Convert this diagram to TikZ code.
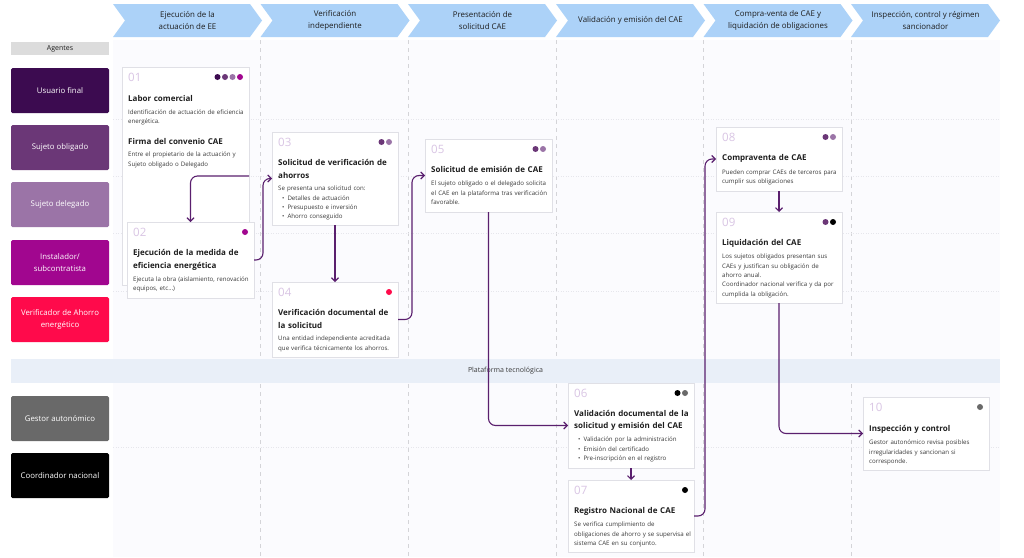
\documentclass[tikz,border=0pt]{standalone}
\usepackage{fontspec}
\setmainfont{Open Sans}
\usetikzlibrary{arrows.meta}
\definecolor{usr}{HTML}{3C0B50}
\definecolor{obl}{HTML}{6B3777}
\definecolor{del}{HTML}{9B74A7}
\definecolor{ins}{HTML}{A1068F}
\definecolor{ver}{HTML}{FF0A4B}
\definecolor{ges}{HTML}{696969}
\definecolor{coo}{HTML}{000000}
\definecolor{phase}{HTML}{ACD2F8}
\definecolor{ink}{HTML}{1E1E1E}
\definecolor{body}{HTML}{3A3A3A}
\definecolor{gridline}{HTML}{D4D4D8}
\definecolor{rowsep}{HTML}{E6E6EC}
\definecolor{cardline}{HTML}{E0E0E6}
\definecolor{numcol}{HTML}{D9C5E4}
\definecolor{arrowcol}{HTML}{5A1F6E}
\definecolor{platbg}{HTML}{E9EFF8}
\definecolor{gridbg}{HTML}{FBFBFE}
\definecolor{agbg}{HTML}{DCDCDC}
\begin{document}
\begin{tikzpicture}[x=1pt, y=-1pt,
  phasebg/.style={fill=phase},
  phaselabel/.style={align=center, inner sep=0pt, text=ink, font=\fontsize{7.9}{12.5}\selectfont},
  colline/.style={draw=gridline, line width=0.6pt, dash pattern=on 4pt off 4pt},
  rowline/.style={draw=rowsep, line width=0.5pt, dotted},
  agent/.style={rounded corners=1.5pt, minimum width=98pt, minimum height=45pt, inner sep=0pt, align=center, text=white, font=\fontsize{7.8}{12}\selectfont},
  card/.style={draw=cardline, fill=white, line width=0.6pt, anchor=north west, inner sep=0pt, outer sep=0pt},
  cardnum/.style={anchor=base west, inner sep=0pt, text=numcol, font=\fontsize{11.5}{12}\selectfont},
  cardtitle/.style={anchor=base west, inner sep=0pt, align=left, text width=140pt, text=ink, font=\fontsize{8}{12.6}\selectfont\bfseries},
  cardtext/.style={anchor=base west, inner sep=0pt, align=left, text width=140pt, text=body, font=\fontsize{6.15}{9.4}\selectfont},
  dot/.style={circle, inner sep=0pt, minimum size=6pt},
  flow/.style={draw=arrowcol, line width=1.1pt, rounded corners=7pt, -{Straight Barb[length=3.5pt, width=7pt]}}]
\useasboundingbox[fill=white] (0,0) rectangle (1024,557);
\fill[gridbg] (113,40) rectangle (1000,557);
\fill[phasebg] (113,4) -- ++(137,0) -- ++(12,16.5) -- ++(-12,16.5) -- ++(-137,0) -- ++(12,-16.5) -- cycle;
\fill[phasebg] (260.5,4) -- ++(137,0) -- ++(12,16.5) -- ++(-12,16.5) -- ++(-137,0) -- ++(12,-16.5) -- cycle;
\fill[phasebg] (408,4) -- ++(137,0) -- ++(12,16.5) -- ++(-12,16.5) -- ++(-137,0) -- ++(12,-16.5) -- cycle;
\fill[phasebg] (556,4) -- ++(137,0) -- ++(12,16.5) -- ++(-12,16.5) -- ++(-137,0) -- ++(12,-16.5) -- cycle;
\fill[phasebg] (703.5,4) -- ++(137,0) -- ++(12,16.5) -- ++(-12,16.5) -- ++(-137,0) -- ++(12,-16.5) -- cycle;
\fill[phasebg] (851,4) -- ++(137,0) -- ++(12,16.5) -- ++(-12,16.5) -- ++(-137,0) -- ++(12,-16.5) -- cycle;
\node[phaselabel] (ph1) at (187.5,20.5) {Ejecución de la\\actuación de EE};
\node[phaselabel] (ph2) at (335,20.5) {Verificación\\independiente};
\node[phaselabel] (ph3) at (482.5,20.5) {Presentación de\\solicitud CAE};
\node[phaselabel] (ph4) at (630.5,20.5) {Validación y emisión del CAE};
\node[phaselabel] (ph5) at (778,20.5) {Compra-venta de CAE y\\liquidación de obligaciones};
\node[phaselabel] (ph6) at (925.5,20.5) {Inspección, control y régimen\\sancionador};
\draw[colline] (260.5,40) -- (260.5,557);
\draw[colline] (408,40) -- (408,557);
\draw[colline] (556,40) -- (556,557);
\draw[colline] (703.5,40) -- (703.5,557);
\draw[colline] (851,40) -- (851,557);
\draw[rowline] (113,119) -- (1000,119);
\draw[rowline] (113,176) -- (1000,176);
\draw[rowline] (113,233.5) -- (1000,233.5);
\draw[rowline] (113,291) -- (1000,291);
\draw[rowline] (113,447) -- (1000,447);
\node[minimum width=98pt, minimum height=13pt, inner sep=0pt, fill=agbg, text=ink, font=\fontsize{7}{8}\selectfont] (agentes) at (60,48.5) {Agentes};
\node[agent, fill=usr] (usr) at (60,90.5) {Usuario final};
\node[agent, fill=obl] (obl) at (60,147.5) {Sujeto obligado};
\node[agent, fill=del] (del) at (60,204.5) {Sujeto delegado};
\node[agent, fill=ins] (ins) at (60,262.5) {Instalador/\\subcontratista};
\node[agent, fill=ver] (ver) at (60,319.5) {Verificador de Ahorro\\energético};
\node[agent, fill=ges] (ges) at (60,418.5) {Gestor autonómico};
\node[agent, fill=coo] (coo) at (60,475.5) {Coordinador nacional};
\node[minimum width=989pt, minimum height=24pt, inner sep=0pt, fill=platbg, text=body, font=\fontsize{7}{8}\selectfont] (plat) at (505.5,371) {Plataforma tecnológica};
\node[card, minimum width=127pt, minimum height=218pt] (c01) at (122,67) {};
\node[cardnum] (n01) at (128,81.5) {01};
\node[dot, fill=usr] (d01a) at (217.5,77) {};
\node[dot, fill=obl] (d01b) at (225,77) {};
\node[dot, fill=del] (d01c) at (232.5,77) {};
\node[dot, fill=ins] (d01d) at (240,77) {};
\node[cardtitle] (t01a) at (128,101.7) {Labor comercial};
\node[cardtext] (x01a) at (128,114.2) {Identificación de actuación de eficiencia\\energética.};
\node[cardtitle] (t01b) at (128,144.7) {Firma del convenio CAE};
\node[cardtext] (x01b) at (128,156.7) {Entre el propietario de la actuación y\\Sujeto obligado o Delegado};
\node[card, minimum width=127pt, minimum height=76pt] (c02) at (127,222) {};
\node[cardnum] (n02) at (133,236.5) {02};
\node[dot, fill=ins] (d02a) at (245,232) {};
\node[cardtitle] (t02) at (133,255.7) {Ejecución de la medida de\\eficiencia energética};
\node[cardtext] (x02) at (133,281.2) {Ejecuta la obra (aislamiento, renovación\\equipos, etc...)};
\node[card, minimum width=126pt, minimum height=93pt] (c03) at (272,132) {};
\node[cardnum] (n03) at (278,146.5) {03};
\node[dot, fill=obl] (d03a) at (381.5,142) {};
\node[dot, fill=del] (d03b) at (389,142) {};
\node[cardtitle] (t03) at (278,165.7) {Solicitud de verificación de\\ahorros};
\node[cardtext] (x03) at (278,190.7) {Se presenta una solicitud con:\\\hspace*{4pt}\textbullet\hspace{3pt}Detalles de actuación\\\hspace*{4pt}\textbullet\hspace{3pt}Presupuesto e inversión\\\hspace*{4pt}\textbullet\hspace{3pt}Ahorro conseguido};
\node[card, minimum width=126pt, minimum height=75pt] (c04) at (272,282) {};
\node[cardnum] (n04) at (278,296.5) {04};
\node[dot, fill=ver] (d04a) at (389,292) {};
\node[cardtitle] (t04) at (278,315.7) {Verificación documental de\\la solicitud};
\node[cardtext] (x04) at (278,340.7) {Una entidad independiente acreditada\\que verifica técnicamente los ahorros.};
\node[card, minimum width=127pt, minimum height=73pt] (c05) at (425,139) {};
\node[cardnum] (n05) at (431,153.5) {05};
\node[dot, fill=obl] (d05a) at (535.5,149) {};
\node[dot, fill=del] (d05b) at (543,149) {};
\node[cardtitle] (t05) at (431,172.7) {Solicitud de emisión de CAE};
\node[cardtext] (x05) at (431,185.7) {El sujeto obligado o el delegado solicita\\el CAE en la plataforma tras verificación\\favorable.};
\node[card, minimum width=126pt, minimum height=85pt] (c06) at (568,383) {};
\node[cardnum] (n06) at (574,397.5) {06};
\node[dot, fill=coo] (d06a) at (677.5,393) {};
\node[dot, fill=ges] (d06b) at (685,393) {};
\node[cardtitle] (t06) at (574,416.2) {Validación documental de la\\solicitud y emisión del CAE};
\node[cardtext] (x06) at (574,441.7) {\hspace*{4pt}\textbullet\hspace{3pt}Validación por la administración\\\hspace*{4pt}\textbullet\hspace{3pt}Emisión del certificado\\\hspace*{4pt}\textbullet\hspace{3pt}Pre-inscripción en el registro};
\node[card, minimum width=126pt, minimum height=72pt] (c07) at (568,480) {};
\node[cardnum] (n07) at (574,494.5) {07};
\node[dot, fill=coo] (d07a) at (685,490) {};
\node[cardtitle] (t07) at (574,513.7) {Registro Nacional de CAE};
\node[cardtext] (x07) at (574,526.7) {Se verifica cumplimiento de\\obligaciones de ahorro y se supervisa el\\sistema CAE en su conjunto.};
\node[card, minimum width=126pt, minimum height=64pt] (c08) at (716,127) {};
\node[cardnum] (n08) at (722,141.5) {08};
\node[dot, fill=obl] (d08a) at (825.5,137) {};
\node[dot, fill=del] (d08b) at (833,137) {};
\node[cardtitle] (t08) at (722,160.7) {Compraventa de CAE};
\node[cardtext] (x08) at (722,174.2) {Pueden comprar CAEs de terceros para\\cumplir sus obligaciones};
\node[card, minimum width=126pt, minimum height=91pt] (c09) at (716,212) {};
\node[cardnum] (n09) at (722,226.5) {09};
\node[dot, fill=obl] (d09a) at (825.5,222) {};
\node[dot, fill=coo] (d09b) at (833,222) {};
\node[cardtitle] (t09) at (722,245.7) {Liquidación del CAE};
\node[cardtext] (x09) at (722,258.7) {Los sujetos obligados presentan sus\\CAEs y justifican su obligación de\\ahorro anual.\\Coordinador nacional verifica y da por\\cumplida la obligación.};
\node[card, minimum width=126pt, minimum height=73pt] (c10) at (863,397) {};
\node[cardnum] (n10) at (869,411.5) {10};
\node[dot, fill=ges] (d10a) at (980,407) {};
\node[cardtitle] (t10) at (869,431.7) {Inspección y control};
\node[cardtext] (x10) at (869,444.7) {Gestor autonómico revisa posibles\\irregularidades y sancionan si\\corresponde.};
\draw[flow] (c01.east) -| (c02.north);
\draw[flow] (c02.east) -- ++(9,0) |- (c03.west);
\draw[flow] (c03.south) -- (c04.north);
\draw[flow] (c04.east) -- ++(14,0) |- (c05.west);
\draw[flow] (c05.south) |- (c06.west);
\draw[flow] (c06.south) -- (c07.north);
\draw[flow] (c07.east) -- ++(11,0) |- (c08.west);
\draw[flow] (c08.south) -- (c09.north);
\draw[flow] (c09.south) |- (c10.west);
\end{tikzpicture}
\end{document}
